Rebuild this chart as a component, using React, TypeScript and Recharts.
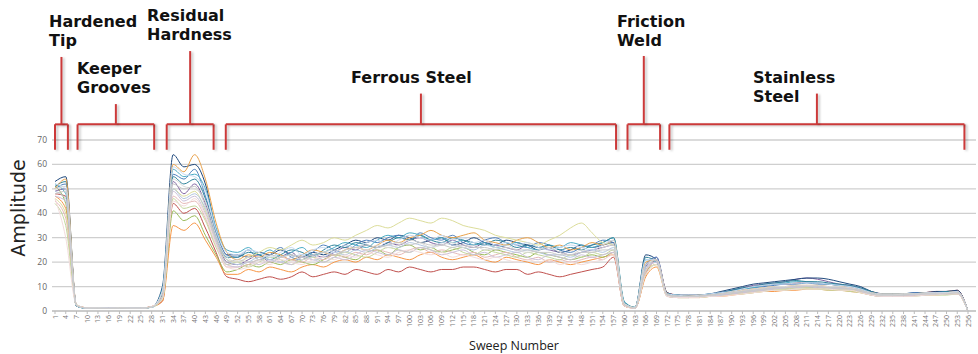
import { LineChart, Line, XAxis, YAxis, CartesianGrid, ReferenceLine } from "recharts";

// sweep numbers sampled every third sweep (also used as the tick labels)
const sweeps = [
  1, 4, 7, 10, 13, 16, 19, 22, 25, 28, 31, 34, 37, 40, 43, 46, 49, 52, 55, 58, 61, 64, 67, 70, 73, 76, 79, 82, 85,
  88, 91, 94, 97, 100, 103, 106, 109, 112, 115, 118, 121, 124, 127, 130, 133, 136, 139, 142, 145, 148, 151, 154,
  157, 160, 163, 166, 169, 172, 175, 178, 181, 184, 187, 190, 193, 196, 199, 202, 205, 208, 211, 214, 217, 220,
  223, 226, 229, 232, 235, 238, 241, 244, 247, 250, 253, 256,
];

const ampTicks = [0, 10, 20, 30, 40, 50, 60, 70];

// amplitude per run: tip+grooves | residual | ferrous | weld | stainless
const run01 = [
  50, 52, 2, 1.2, 1.1, 1.2, 1.1, 1.2, 1.1, 1.6,
  6, 56, 54, 58, 47, 32, 23,
  22, 25, 21, 23, 26, 22, 21, 24, 27, 25, 24, 27, 29, 28, 30, 31, 29, 32, 30, 29, 31, 28, 27, 29, 30, 28, 27, 26, 28, 27, 25, 24, 26, 27, 29, 28,
  3, 1.3, 19, 22,
  7, 6, 6, 6.5, 7, 7.5, 8.5, 9, 9.5, 10, 10.5, 11, 11, 11.5, 11, 11, 10.5, 10, 9, 7.5, 7, 7, 7, 7.5, 7.5, 7.5, 8, 8, 0,
];
const run02 = [
  48, 47, 2.2, 1.3, 1.2, 1.1, 1.2, 1.1, 1.2, 1.8,
  4, 44, 40, 42, 34, 24, 14,
  13, 12, 13, 14, 13, 14, 16, 14, 15, 16, 15, 17, 16, 15, 17, 16, 18, 17, 16, 17, 17, 18, 18, 17, 16, 17, 17, 15, 16, 15, 14, 15, 16, 17, 18, 22,
  2, 1.2, 15, 21,
  7.5, 6.5, 6, 6, 6.5, 7, 8, 9, 10, 10.5, 11, 11, 11.5, 12, 11.5, 11, 10.5, 10, 9, 7.5, 6.5, 6.5, 7, 7, 7.5, 8, 8, 8.5, 0,
];
const run03 = [
  51, 44, 2, 1.2, 1.2, 1.1, 1.1, 1.2, 1.2, 1.7,
  5, 41, 37, 39, 31, 23, 16,
  17, 19, 18, 20, 19, 21, 20, 19, 21, 23, 22, 21, 24, 25, 23, 26, 27, 25, 26, 24, 25, 26, 24, 23, 25, 24, 23, 22, 24, 23, 22, 21, 22, 23, 22, 24,
  2.5, 1.4, 16, 19,
  6.5, 5.5, 5.5, 6, 6, 6.5, 7, 7.5, 8, 8.5, 9, 9, 9.5, 9.5, 9.5, 9, 9, 8.5, 8, 7, 6, 6, 6.5, 6.5, 6.5, 7, 7, 7.5, 0,
];
const run04 = [
  49, 50, 2.4, 1.2, 1.1, 1.2, 1.2, 1.1, 1.1, 1.6,
  7, 53, 48, 52, 44, 30, 20,
  19, 21, 23, 20, 22, 24, 21, 23, 22, 24, 26, 25, 27, 26, 28, 27, 29, 30, 28, 27, 29, 27, 26, 28, 27, 26, 25, 27, 26, 25, 24, 23, 24, 25, 26, 27,
  3, 1.3, 18, 22,
  7, 6, 6, 6, 6.5, 7.5, 8.5, 9.5, 10.5, 11, 11.5, 12, 13, 13.5, 13, 12, 11, 10.5, 9.5, 8, 7, 6.5, 6.5, 7, 7, 7, 7.5, 7.5, 0,
];
const run05 = [
  52, 48, 2.1, 1.1, 1.2, 1.1, 1.2, 1.1, 1.2, 1.5,
  9, 58, 55, 56, 50, 34, 25,
  24, 26, 23, 25, 22, 24, 26, 23, 24, 26, 28, 27, 26, 29, 31, 30, 32, 31, 29, 30, 28, 29, 27, 28, 26, 27, 28, 26, 25, 27, 26, 28, 27, 26, 28, 30,
  4, 1.5, 21, 20,
  7, 6.5, 6, 6, 6.5, 7, 8, 9, 9.5, 10.5, 11, 11.5, 12, 12, 11.5, 11, 10.5, 10, 9, 7.5, 6.5, 6.5, 7, 7, 7, 7.5, 7.5, 8, 0,
];
const run06 = [
  47, 42, 2.3, 1.2, 1.1, 1.1, 1.2, 1.2, 1.1, 1.7,
  4, 35, 33, 36, 29, 22, 15,
  15, 17, 16, 18, 17, 16, 18, 19, 18, 20, 21, 20, 22, 21, 23, 22, 21, 23, 24, 22, 21, 22, 23, 21, 20, 22, 21, 20, 19, 21, 20, 19, 20, 21, 22, 23,
  2, 1.2, 14, 18,
  6, 5.5, 5.5, 5.5, 6, 6, 6.5, 7, 7.5, 8, 8, 8.5, 8.5, 9, 9, 8.5, 8.5, 8, 7.5, 6.5, 6, 6, 6, 6.5, 6.5, 6.5, 7, 7, 0,
];
const run07 = [
  50, 54, 2.5, 1.3, 1.2, 1.2, 1.1, 1.2, 1.2, 1.8,
  6, 60, 57, 64, 54, 36, 24,
  21, 23, 22, 24, 23, 21, 23, 25, 24, 23, 25, 26, 25, 27, 29, 28, 30, 31, 33, 31, 30, 31, 32, 29, 28, 27, 29, 30, 28, 26, 27, 25, 26, 28, 27, 29,
  3, 1.4, 20, 21,
  7, 6, 6, 6.5, 6.5, 7, 8, 8.5, 9, 9.5, 10, 10, 10.5, 10.5, 10.5, 10, 10, 9.5, 8.5, 7.5, 7, 7, 7, 7, 7.5, 7.5, 7.5, 8, 0,
];
const run08 = [
  53, 55, 2, 1.1, 1.1, 1.2, 1.1, 1.1, 1.2, 1.5,
  10, 64, 59, 60, 52, 33, 23,
  23, 22, 24, 23, 25, 23, 22, 24, 23, 25, 27, 29, 28, 30, 29, 31, 30, 28, 29, 30, 27, 28, 30, 28, 27, 29, 28, 27, 25, 26, 24, 25, 27, 26, 27, 28,
  3.5, 1.4, 23, 21,
  7.5, 6.5, 6.5, 6.5, 7, 8, 9, 10, 11, 11.5, 12, 12.5, 13, 13.5, 13.5, 13, 12, 11, 10, 8, 7, 7, 7, 7.5, 7.5, 8, 8, 8.5, 0,
];
const run09 = [
  46, 40, 2.2, 1.2, 1.2, 1.1, 1.1, 1.2, 1.1, 1.6,
  5, 50, 47, 49, 41, 29, 21,
  20, 22, 24, 26, 25, 27, 29, 27, 28, 30, 29, 31, 33, 35, 34, 36, 38, 37, 36, 38, 37, 35, 34, 33, 31, 30, 29, 28, 27, 29, 31, 34, 36, 32, 28, 27,
  3, 1.3, 17, 19,
  6.5, 6, 6, 6, 6, 6.5, 7, 7.5, 8, 8.5, 9, 9, 9.5, 9.5, 9, 9, 9, 8.5, 8, 7, 6.5, 6.5, 6.5, 6.5, 7, 7, 7, 7.5, 0,
];
const run10 = [
  49, 46, 2.3, 1.2, 1.1, 1.2, 1.1, 1.2, 1.2, 1.7,
  8, 50, 46, 48, 42, 30, 21,
  19, 20, 22, 21, 20, 22, 23, 21, 22, 24, 23, 25, 24, 26, 27, 26, 28, 27, 26, 28, 27, 26, 25, 27, 26, 25, 24, 25, 24, 23, 23, 22, 24, 25, 24, 26,
  2.5, 1.2, 18, 20,
  6.5, 6, 5.5, 6, 6, 6.5, 7.5, 8, 8.5, 9, 9.5, 9.5, 10, 10, 10, 9.5, 9.5, 9, 8.5, 7, 6.5, 6.5, 6.5, 7, 7, 7, 7.5, 7.5, 0,
];
const run11 = [
  45, 38, 2.4, 1.3, 1.2, 1.2, 1.2, 1.1, 1.2, 1.8,
  6, 47, 44, 45, 38, 27, 18,
  18, 19, 21, 20, 22, 21, 20, 22, 21, 23, 22, 24, 23, 25, 24, 23, 25, 26, 24, 25, 24, 23, 24, 22, 23, 24, 22, 21, 22, 20, 21, 20, 21, 22, 21, 24,
  2.2, 1.2, 16, 20,
  6.5, 6, 6, 6, 6.5, 7, 7.5, 8, 8.5, 9, 9.5, 10, 10, 10.5, 10, 10, 9.5, 9.5, 8.5, 7, 6.5, 6.5, 6.5, 6.5, 7, 7.5, 7.5, 8, 0,
];
const run12 = [
  44, 35, 2.6, 1.2, 1.2, 1.1, 1.2, 1.2, 1.1, 1.6,
  5, 46, 42, 43, 37, 26, 19,
  20, 18, 20, 22, 21, 19, 21, 22, 20, 22, 24, 23, 22, 24, 26, 25, 24, 26, 25, 24, 26, 24, 23, 25, 24, 23, 22, 24, 23, 22, 21, 23, 22, 24, 23, 25,
  2.2, 1.3, 15, 19,
  6, 5.5, 5.5, 5.5, 6, 6.5, 7, 7, 7.5, 8, 8.5, 8.5, 9, 9, 9, 8.5, 8.5, 8, 7.5, 6.5, 6, 6, 6, 6, 6.5, 6.5, 6.5, 7, 0,
];
const run13 = [
  51, 53, 2.1, 1.1, 1.2, 1.1, 1.2, 1.1, 1.2, 1.5,
  7, 55, 52, 54, 46, 31, 22,
  22, 24, 23, 21, 23, 25, 24, 22, 25, 27, 26, 28, 27, 26, 28, 30, 29, 31, 29, 28, 30, 29, 28, 27, 29, 28, 26, 27, 26, 27, 25, 26, 25, 27, 28, 30,
  3.5, 1.5, 22, 20,
  7, 6.5, 6, 6.5, 7, 7.5, 8.5, 9.5, 10, 11, 11.5, 12, 12.5, 12, 12, 11.5, 11, 10.5, 9.5, 8, 7, 7, 7, 7, 7.5, 7.5, 8, 8, 0,
];
const run14 = [
  48, 49, 2.2, 1.2, 1.1, 1.1, 1.1, 1.2, 1.2, 1.6,
  6, 52, 50, 51, 43, 29, 20,
  21, 20, 21, 23, 22, 23, 22, 23, 24, 23, 25, 26, 27, 26, 27, 28, 27, 28, 27, 27, 26, 27, 26, 26, 25, 26, 25, 25, 24, 24, 23, 23, 24, 24, 25, 25,
  2.5, 1.2, 17, 21,
  6.5, 6, 6, 6, 6.5, 7, 7.5, 8, 8.5, 9, 9.5, 9.5, 10, 10, 10, 9.5, 9.5, 9, 8.5, 7, 6.5, 6.5, 6.5, 7, 7, 7, 7, 7.5, 0,
];
const run15 = [
  50, 51, 2.3, 1.2, 1.2, 1.1, 1.2, 1.1, 1.2, 1.7,
  8, 54, 51, 50, 45, 31, 22,
  20, 22, 21, 20, 22, 23, 21, 22, 24, 25, 24, 26, 25, 27, 26, 27, 29, 28, 26, 27, 28, 26, 27, 25, 26, 27, 25, 24, 25, 26, 24, 23, 25, 24, 26, 27,
  3, 1.3, 19, 21,
  6.5, 6, 6, 6, 6.5, 7, 7.5, 8.5, 9, 9.5, 10, 10, 10.5, 10.5, 10.5, 10, 10, 9.5, 8.5, 7, 6.5, 6.5, 7, 7, 7, 7, 7.5, 7.5, 0,
];
const run16 = [
  47, 45, 2.4, 1.2, 1.1, 1.2, 1.1, 1.2, 1.1, 1.7,
  6, 49, 45, 47, 40, 28, 19,
  18, 20, 19, 21, 20, 19, 22, 21, 20, 22, 21, 23, 25, 24, 23, 25, 24, 26, 25, 23, 24, 25, 23, 24, 22, 23, 24, 22, 21, 23, 22, 21, 23, 22, 23, 24,
  2.4, 1.2, 17, 20,
  6, 5.5, 5.5, 6, 6, 6.5, 7, 7.5, 8, 8.5, 9, 9.5, 9.5, 10, 9.5, 9.5, 9, 9, 8, 6.5, 6, 6, 6, 6.5, 6.5, 7, 7, 7, 0,
];
const run17 = [
  52, 50, 2.1, 1.1, 1.2, 1.2, 1.1, 1.2, 1.2, 1.5,
  8, 59, 56, 55, 49, 33, 24,
  23, 25, 24, 22, 24, 26, 23, 25, 26, 24, 27, 26, 28, 29, 27, 29, 31, 30, 29, 31, 29, 30, 28, 29, 27, 28, 27, 28, 26, 25, 26, 27, 26, 25, 27, 29,
  3.2, 1.4, 21, 21,
  7, 6.5, 6, 6.5, 7, 7.5, 8, 9, 10, 10.5, 11, 11, 11.5, 11.5, 11.5, 11, 10.5, 10, 9, 7.5, 7, 7, 7, 7, 7.5, 7.5, 7.5, 8, 0,
];
const run18 = [
  46, 30, 2.5, 1.3, 1.2, 1.1, 1.2, 1.2, 1.1, 1.8,
  5, 45, 43, 46, 39, 27, 18,
  17, 18, 20, 19, 21, 20, 19, 21, 22, 21, 23, 22, 24, 23, 22, 24, 25, 24, 23, 24, 22, 23, 22, 21, 22, 21, 20, 21, 20, 21, 19, 20, 19, 20, 21, 23,
  2, 1.1, 15, 19,
  6, 5.5, 5.5, 5.5, 6, 6, 6.5, 7, 7.5, 8, 8.5, 8.5, 9, 9, 9, 9, 8.5, 8.5, 7.5, 6.5, 6, 6, 6, 6, 6.5, 6.5, 7, 7, 0,
];

const runs = [
  { key: "run02", values: run02, color: "#C0504D" },
  { key: "run06", values: run06, color: "#F79646" },
  { key: "run03", values: run03, color: "#9BBB59" },
  { key: "run04", values: run04, color: "#8064A2" },
  { key: "run08", values: run08, color: "#1F497D" },
  { key: "run01", values: run01, color: "#4F81BD" },
  { key: "run05", values: run05, color: "#4BACC6" },
  { key: "run13", values: run13, color: "#31859C" },
  { key: "run07", values: run07, color: "#E9A14A" },
  { key: "run09", values: run09, color: "#DCDD9A" },
  { key: "run11", values: run11, color: "#E6B9B8" },
  { key: "run12", values: run12, color: "#C3D69B" },
  { key: "run10", values: run10, color: "#B3C7E0" },
  { key: "run16", values: run16, color: "#CCC1DA" },
  { key: "run18", values: run18, color: "#F2DCDB" },
  { key: "run17", values: run17, color: "#C6D9F1" },
  { key: "run15", values: run15, color: "#D9D9D9" },
  { key: "run14", values: run14, color: "#C9C9C9" },
];

// sweep ranges of each zone along the part
const zones = [
  { lines: ["Hardened", "Tip"], from: 1, to: 4.6 },
  { lines: ["Keeper", "Grooves"], from: 7.3, to: 28.7 },
  { lines: ["Residual", "Hardness"], from: 32.2, to: 45.3 },
  { lines: ["Ferrous Steel"], from: 48.7, to: 157.7 },
  { lines: ["Friction", "Weld"], from: 160.9, to: 170 },
  { lines: ["Stainless", "Steel"], from: 172.6, to: 255 },
];

// bracket geometry (amplitude units, drawn above the plot) and label placement in px
const BRACKET_FOOT = 66;
const BRACKET_TOP = 76.4;
const stemTops = [104, 84.7, 106.4, 89, 104.4, 89];
const labelSpots = [
  { x: 49, y: 27 },
  { x: 77, y: 74 },
  { x: 147, y: 21 },
  { x: 351, y: 83 },
  { x: 617, y: 27 },
  { x: 753, y: 83 },
];

const rows = sweeps.map((sweep, i) => {
  const row: Record<string, number> = { sweep };
  runs.forEach((r) => {
    row[r.key] = r.values[i];
  });
  return row;
});

const RED = "#CC3A3A";
const redStyle = { filter: "drop-shadow(2px 1px 1px rgba(0,0,0,0.22))" };

const SweepTick = (props: any) => {
  const { x, y, payload } = props;
  return (
    <text
      x={x}
      y={y}
      transform={`rotate(-90 ${x} ${y})`}
      textAnchor="end"
      dominantBaseline="central"
      fontSize={7}
      fontFamily="Open Sans"
      fill="#777"
    >
      {payload.value}
    </text>
  );
};

export default function App() {
  const brackets = zones.flatMap((z, i) => {
    const mid = (z.from + z.to) / 2;
    const common = { stroke: RED, strokeWidth: 2, ifOverflow: "visible" as const, style: redStyle };
    return [
      <ReferenceLine key={`l${i}`} segment={[{ x: z.from, y: BRACKET_FOOT }, { x: z.from, y: BRACKET_TOP }]} {...common} />,
      <ReferenceLine key={`r${i}`} segment={[{ x: z.to, y: BRACKET_FOOT }, { x: z.to, y: BRACKET_TOP }]} {...common} />,
      <ReferenceLine key={`h${i}`} segment={[{ x: z.from, y: BRACKET_TOP }, { x: z.to, y: BRACKET_TOP }]} {...common} />,
      <ReferenceLine key={`s${i}`} segment={[{ x: mid, y: BRACKET_TOP }, { x: mid, y: stemTops[i] }]} {...common} />,
    ];
  });

  return (
    <div style={{ position: "absolute", left: 0, top: 0, width: 978, height: 354, background: "#fff" }}>
      <LineChart width={978} height={354} data={rows} margin={{ top: 140, right: 2, bottom: 0, left: 0 }}>
        <CartesianGrid vertical={false} stroke="#cfcfcf" strokeWidth={1.3} />
        <XAxis
          dataKey="sweep"
          type="number"
          domain={[1, 256]}
          ticks={sweeps}
          interval={0}
          padding={{ left: 3, right: 8 }}
          height={43}
          tick={<SweepTick />}
          tickSize={3}
          tickMargin={1}
          stroke="#bbb"
          label={{
            value: "Sweep Number",
            position: "insideBottom",
            offset: 4,
            style: { fontFamily: "Open Sans", fontSize: 12.5, fill: "#222" },
          }}
        />
        <YAxis
          domain={[0, 70]}
          ticks={ampTicks}
          width={52}
          axisLine={false}
          tickLine={false}
          tickSize={5}
          tickMargin={0}
          tick={{ fontSize: 8.5, fill: "#666", fontFamily: "Open Sans" }}
        />
        {runs.map((r) => (
          <Line
            key={r.key}
            dataKey={r.key}
            type="monotone"
            stroke={r.color}
            strokeWidth={1}
            dot={false}
            isAnimationActive={false}
          />
        ))}
        {brackets}
      </LineChart>
      <svg width={978} height={354} style={{ position: "absolute", left: 0, top: 0, pointerEvents: "none" }}>
        <text
          transform="translate(18 208) rotate(-90)"
          textAnchor="middle"
          dominantBaseline="central"
          fontFamily="DejaVu Sans"
          fontSize={19}
          fill="#222"
        >
          Amplitude
        </text>
        {zones.map((z, i) => (
          <text key={i} fontFamily="DejaVu Sans" fontWeight="bold" fontSize={16} fill="#111">
            {z.lines.map((t, j) => (
              <tspan key={j} x={labelSpots[i].x} y={labelSpots[i].y + j * 19}>
                {t}
              </tspan>
            ))}
          </text>
        ))}
      </svg>
    </div>
  );
}
